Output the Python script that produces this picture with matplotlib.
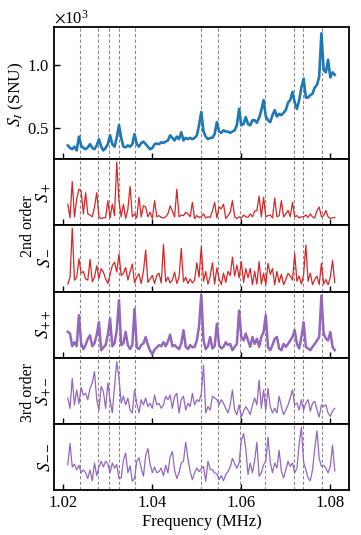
import numpy as np
import matplotlib
matplotlib.use("Agg")
import matplotlib.pyplot as plt
from matplotlib.ticker import ScalarFormatter

plt.rcParams['font.family'] = ['Liberation Serif', 'DejaVu Serif']
plt.rcParams['mathtext.fontset'] = 'stix'

# ---- data ----
f_start, f_stop = 1.021, 1.081
dashed_freqs = [1.0237, 1.0279, 1.0303, 1.0324, 1.0361, 1.0510,
                1.0547, 1.0596, 1.0654, 1.0718, 1.0739, 1.0781]
xticks = [1.02, 1.04, 1.06, 1.08]

s_I = [360, 340, 330, 350, 320, 430, 360, 340, 330, 345,
       370, 340, 330, 360, 410, 350, 320, 340, 370, 440,
       370, 350, 420, 520, 420, 350, 345, 360, 350, 370,
       450, 370, 350, 380, 390, 370, 350, 330, 340, 370,
       375, 370, 385, 380, 390, 400, 440, 420, 400, 430,
       410, 465, 400, 420, 410, 420, 410, 420, 440, 520,
       625, 470, 430, 410, 420, 420, 450, 545, 470, 460,
       480, 470, 470, 460, 470, 480, 520, 650, 520, 530,
       585, 530, 520, 560, 560, 540, 580, 640, 720, 590,
       560, 545, 600, 640, 590, 610, 600, 620, 640, 700,
       720, 785, 700, 650, 720, 820, 890, 740, 740, 760,
       770, 820, 840, 905, 1250, 960, 940, 1040, 900, 940,
       920]

s_p = [0.27, 0.03, 0.66, 0.05, 0.36, 0.53, 0.50, 0.10, 0.47, 0.10,
       0.08, 0.05, 0.22, 0.47, 0.05, 0.02, 0.03, 0.04, 0.33, 0.03,
       0.27, 0.07, 1.00, 0.33, 0.05, 0.27, 0.02, 0.18, 0.58, 0.05,
       0.10, 0.03, 0.39, 0.05, 0.24, 0.22, 0.05, 0.13, 0.02, 0.33,
       0.05, 0.07, 0.04, 0.03, 0.05, 0.10, 0.24, 0.15, 0.05, 0.53,
       0.05, 0.08, 0.07, 0.13, 0.10, 0.05, 0.30, 0.02, 0.07, 0.04,
       0.05, 0.10, 0.03, 0.05, 0.04, 0.15, 0.30, 0.03, 0.22, 0.19,
       0.27, 0.02, 0.07, 0.13, 0.33, 0.05, 0.02, 0.05, 0.03, 0.08,
       0.05, 0.04, 0.10, 0.05, 0.15, 0.16, 0.41, 0.05, 0.39, 0.05,
       0.07, 0.08, 0.03, 0.375, 0.05, 0.07, 0.33, 0.05, 0.10, 0.16,
       0.05, 0.30, 0.05, 0.07, 0.03, 0.05, 0.05, 0.08, 0.04, 0.10,
       0.05, 0.03, 0.16, 0.22, 0.05, 0.07, 0.16, 0.05, 0.02, 0.03,
       0.04]

s_m = [0.03, 0.15, 1.00, 0.10, 0.15, 0.47, 0.22, 0.25, 0.12, 0.10,
       0.46, 0.07, 0.15, 0.35, 0.13, 0.30, 0.24, 0.12, 0.04, 0.20,
       0.35, 0.41, 0.24, 0.55, 0.18, 0.22, 0.32, 0.10, 0.24, 0.38,
       0.05, 0.15, 0.21, 0.04, 0.25, 0.62, 0.06, 0.12, 0.18, 0.04,
       0.18, 0.22, 0.05, 0.72, 0.07, 0.15, 0.05, 0.10, 0.24, 0.04,
       0.15, 0.65, 0.07, 0.15, 0.04, 0.12, 0.05, 0.10, 0.40, 0.15,
       0.68, 0.08, 0.25, 0.03, 0.17, 0.40, 0.03, 0.31, 0.12, 0.02,
       0.22, 0.06, 0.25, 0.18, 0.50, 0.17, 0.36, 0.14, 0.42, 0.06,
       0.30, 0.14, 0.30, 0.02, 0.25, 0.03, 0.42, 0.03, 0.22, 0.02,
       0.39, 0.20, 0.30, 0.02, 0.25, 0.06, 0.20, 0.02, 0.11, 0.22,
       0.17, 0.10, 0.56, 0.08, 0.17, 0.03, 0.20, 0.71, 0.08, 0.22,
       0.02, 0.11, 0.17, 0.02, 0.39, 0.03, 0.11, 0.02, 0.15, 0.44,
       0.06]

s_pp = [0.35, 0.32, 0.10, 0.17, 0.10, 0.64, 0.15, 0.05, 0.12, 0.23,
        0.29, 0.10, 0.15, 0.30, 0.52, 0.03, 0.08, 0.12, 0.30, 0.58,
        0.10, 0.15, 0.37, 0.90, 0.12, 0.15, 0.35, 0.12, 0.05, 0.12,
        0.75, 0.08, 0.05, 0.12, 0.15, 0.26, 0.12, 0.02, -0.04, 0.04,
        0.08, 0.12, 0.10, 0.17, 0.10, 0.18, 0.30, 0.10, 0.12, 0.08,
        0.05, 0.15, 0.38, 0.09, 0.05, 0.12, 0.08, 0.09, 0.20, 0.45,
        1.00, 0.20, 0.05, 0.10, 0.26, 0.06, 0.10, 0.49, 0.12, 0.06,
        0.09, 0.17, 0.12, 0.14, 0.03, 0.09, 0.14, 0.72, 0.26, 0.20,
        0.32, 0.20, 0.09, 0.26, 0.14, 0.23, 0.09, 0.26, 0.35, 0.64,
        0.08, 0.03, 0.12, 0.23, 0.26, 0.06, 0.03, 0.14, 0.09, 0.14,
        0.20, 0.26, 0.38, 0.14, 0.06, 0.26, 0.52, 0.09, 0.06, 0.03,
        0.09, 0.14, 0.20, 0.26, 0.98, 0.32, 0.23, 0.20, 0.35, 0.09,
        0.03]

s_pm = [0.35, 0.17, 0.69, 0.23, 0.49, 0.25, 0.53, 0.40, 0.43, 0.32,
        0.52, 0.61, 0.81, 0.32, 0.14, 0.55, 0.46, 0.17, 0.61, 0.32,
        0.09, 0.55, 0.98, 0.70, 0.26, 0.38, 0.23, 0.35, 0.14, 0.09,
        0.49, 0.26, 0.09, 0.32, 0.23, 0.35, 0.20, 0.26, 0.17, 0.40,
        0.23, 0.26, 0.17, 0.23, 0.38, 0.32, 0.40, 0.17, 0.38, 0.43,
        0.09, 0.32, 0.38, 0.14, 0.26, 0.20, 0.43, 0.23, 0.32, 0.29,
        0.42, 0.92, 0.09, 0.20, 0.14, 0.38, 0.35, 0.32, 0.23, 0.32,
        0.26, 0.17, 0.09, 0.23, 0.49, 0.14, 0.06, 0.23, 0.02, 0.12,
        0.20, 0.14, 0.06, 0.23, 0.35, 0.23, 0.66, 0.17, 0.49, 0.14,
        0.52, 0.20, 0.09, 0.17, 0.09, 0.38, 0.20, 0.06, 0.14, 0.23,
        0.35, 0.49, 0.23, 0.26, 0.14, 0.32, 0.14, 0.26, 0.32, 0.12,
        0.26, 0.29, 0.14, 0.02, 0.23, 0.20, 0.23, 0.09, 0.03, 0.12,
        0.17]

s_mm = [0.34, 0.71, 0.30, 0.35, 0.25, 0.33, 0.20, 0.25, 0.20, 0.10,
        0.25, 0.06, 0.37, 0.15, 0.30, 0.40, 0.30, 0.40, 0.35, 0.20,
        0.37, 0.28, 0.34, 0.10, 0.11, 0.42, 0.54, 0.20, 0.32, 0.05,
        0.10, 0.40, 0.46, 0.28, 0.14, 0.50, 0.62, 0.35, 0.20, 0.30,
        0.20, 0.22, 0.28, 0.15, 0.33, 0.20, 0.48, 0.57, 0.25, 0.10,
        0.20, 0.37, 0.40, 0.73, 0.45, 0.22, 0.08, 0.20, 0.28, 0.22,
        0.27, 0.31, 0.05, 0.40, 0.26, 0.25, 0.20, 0.18, 0.08, 0.15,
        0.06, 0.17, 0.22, 0.30, 0.45, 0.36, 0.28, 0.37, 0.76, 0.88,
        0.62, 0.17, 0.37, 0.20, 0.42, 0.73, 0.14, 0.20, 0.34, 0.40,
        0.82, 0.38, 0.20, 0.37, 0.28, 0.59, 0.23, 0.11, 0.25, 0.40,
        0.31, 0.37, 0.20, 0.28, 0.70, 0.99, 0.38, 0.25, 0.11, 0.06,
        0.25, 0.62, 0.93, 0.45, 0.31, 0.33, 0.28, 0.20, 0.31, 0.68,
        0.23]

panel_labels = [r"$S_+$", r"$S_-$", r"$S_{++}$", r"$S_{+-}$", r"$S_{--}$"]
group_labels = ["2nd order", "3rd order"]

# ---- figure ----
W, H = 361, 535
fig = plt.figure(figsize=(W / 100, H / 100), dpi=100)
gs = fig.add_gridspec(6, 1, height_ratios=[2, 1, 1, 1, 1, 1], hspace=0,
                      left=54 / W, right=349 / W, top=1 - 27 / H, bottom=1 - 490 / H)
axes = [fig.add_subplot(gs[i]) for i in range(6)]

blue = '#1f77b4'
red = '#d62728'
purple = '#9467bd'

series = [s_I, s_p, s_m, s_pp, s_pm, s_mm]
colors = [blue, red, red, purple, purple, purple]
widths = [1.9, 0.9, 0.9, 1.8, 0.9, 0.9]

for k, (ax, s, c, lw) in enumerate(zip(axes, series, colors, widths)):
    fr = np.linspace(f_start, f_stop, len(s))
    for fd in dashed_freqs:
        ax.axvline(fd, color='#8a8a8a', lw=0.8, ls=(0, (3, 2)), zorder=1)
    ax.plot(fr, s, color=c, lw=lw, zorder=3)
    ax.set_xlim(1.0179, 1.0842)
    ax.set_xticks(xticks)
    ax.tick_params(axis='both', direction='in', length=4, width=1.0,
                   labelsize=12, top=False, right=False)
    for sp in ax.spines.values():
        sp.set_linewidth(1.3)
    if k < 5:
        ax.tick_params(axis='x', labelbottom=False)
    if k == 0:
        ax.set_ylim(250, 1300)
        ax.set_yticks([500, 1000])
        fmt = ScalarFormatter(useMathText=True)
        fmt.set_powerlimits((0, 0))
        ax.yaxis.set_major_formatter(fmt)
        ax.yaxis.get_offset_text().set_fontsize(12)
    else:
        ax.set_ylim(-0.1, 1.05)
        ax.set_yticks([])

axes[-1].set_xticklabels(["%.2f" % t for t in xticks])
axes[-1].set_xlabel("Frequency (MHz)", fontsize=12, labelpad=2)

# labels
fig.text(16 / W, 1 - 94 / H, r"$S_I$ (SNU)", rotation=90, ha='center', va='center', fontsize=12.5)
panel_centers = [192.5, 258, 324, 391, 457]
for lab, yc in zip(panel_labels, panel_centers):
    fig.text(44 / W, 1 - yc / H, lab, rotation=90, ha='center', va='center', fontsize=13)
fig.text(28.5 / W, 1 - 226 / H, group_labels[0], rotation=90, ha='center', va='center', fontsize=11.5)
fig.text(28.5 / W, 1 - 392 / H, group_labels[1], rotation=90, ha='center', va='center', fontsize=11.5)

fig.savefig("out.png", dpi=100)
